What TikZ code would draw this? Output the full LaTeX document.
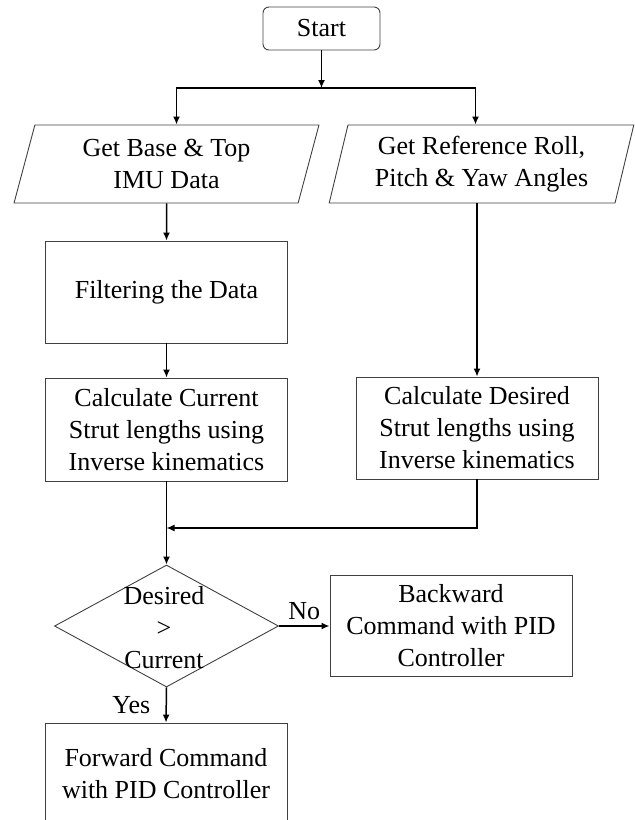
\documentclass[tikz,border=0pt]{standalone}
\usepackage{fontspec}
\setmainfont{Liberation Serif}
\usetikzlibrary{arrows.meta, shapes.geometric, positioning}

\begin{document}
\begin{tikzpicture}[x=1pt, y=-1pt, font=\fontsize{26}{32}\selectfont,
		box/.style={draw=black!75, line width=0.9pt, rectangle, align=center, inner sep=0pt, minimum width=242pt, minimum height=102pt},
		io/.style={draw=black!75, line width=0.9pt, trapezium, trapezium left angle=75, trapezium right angle=105, trapezium stretches=true, align=center, inner sep=0pt, minimum width=305pt, minimum height=78pt},
		startbox/.style={draw=black!75, line width=0.9pt, rounded corners=6pt, minimum width=117pt, minimum height=43pt, inner sep=0pt},
		decision/.style={draw=black!75, line width=0.9pt, diamond, inner sep=0pt, minimum width=224pt, minimum height=122pt},
		arr/.style={line width=1.5pt, -{Latex[length=8pt, width=7pt]}}]
			\clip (0,0) rectangle (635,820);
			
			\node [startbox] (start) at (321.5,28.5) {Start};
			\node [io] (base) at (166.5,164) {Get Base \& Top\\IMU Data};
			\node [io] (ref) at (481.5,164) {Get Reference Roll,\\Pitch \& Yaw Angles};
			\node [box] (filt) at (166.5,292) {Filtering the Data};
			\node [box, minimum height=103pt] (cur) at (166.5,429.5) {Calculate Current\\Strut lengths using\\Inverse kinematics};
			\node [box] (des) at (477,428) {Calculate Desired\\Strut lengths using\\Inverse kinematics};
			\node [decision] (dec) at (166.5,626) {};
			\node [align=center] (dectext) at (164,628) {Desired\\>\\Current};
			\node [box, minimum height=101pt] (back) at (451,626) {Backward\\Command with PID\\Controller};
			\node [box] (fwd) at (166,774) {Forward Command\\with PID Controller};
			
			\coordinate (split) at (321.5,88);
			\coordinate (merge) at (166.5,528);
			
			\draw [arr] (start) -- (split);
			\draw [arr] (split) -| ([xshift=10pt]base.north);
			\draw [arr] (split) -| ([xshift=-6pt]ref.north);
			\draw [arr] (base.south) -- (filt.north);
			\draw [arr] (filt.south) -- (cur.north);
			\draw [arr] (ref.south -| des.north) -- (des.north);
			\draw [arr] (cur.south) -- (dec.north);
			\draw [arr] (des.south) |- (merge);
			\draw [arr] (dec.east) -- node [above=2pt] {No} (back.west);
			\draw [arr] (dec.south) -- node [left=12pt] {Yes} (fwd.north);
		\end{tikzpicture}
\end{document}
